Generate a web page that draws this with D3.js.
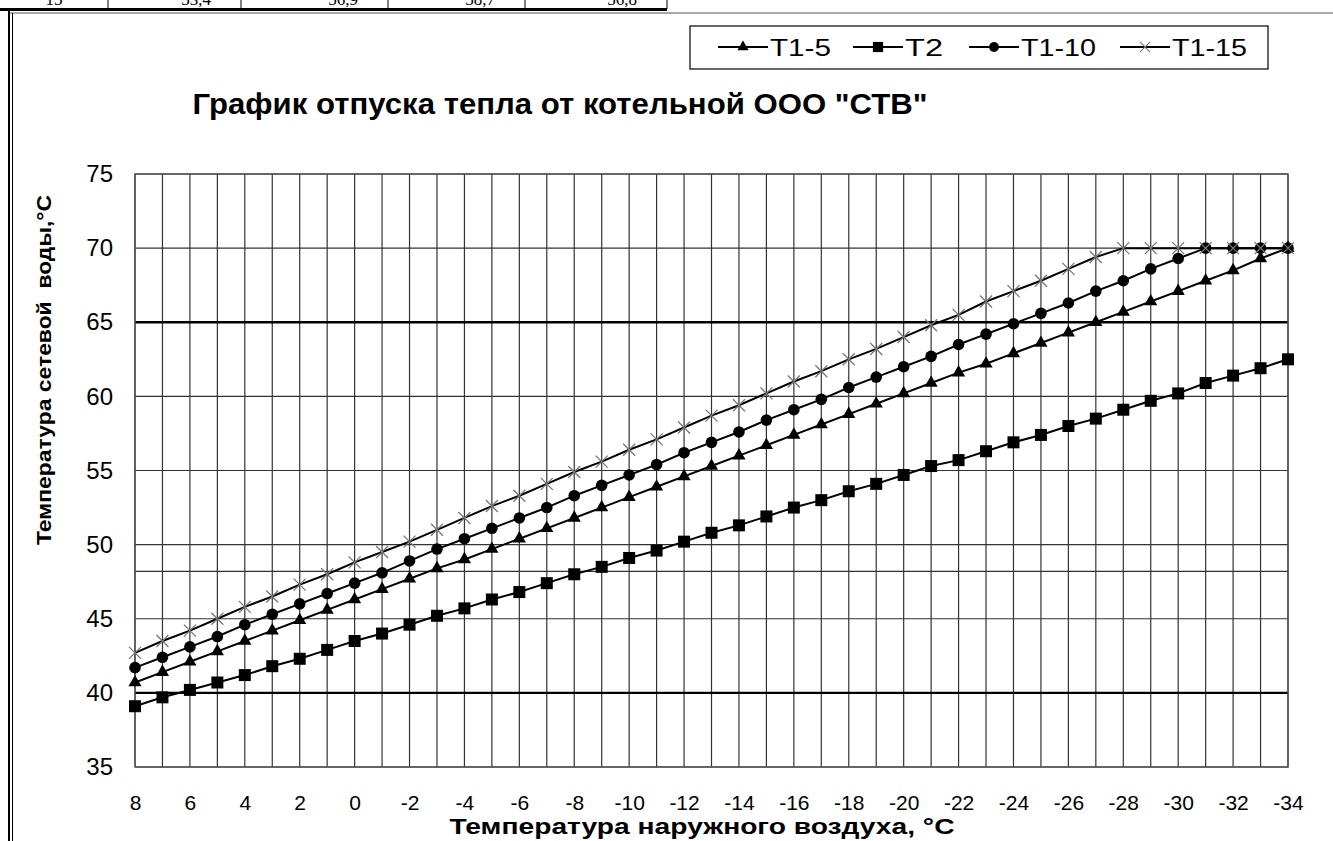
<!DOCTYPE html>
<html><head><meta charset="utf-8">
<script src="https://cdn.jsdelivr.net/npm/d3@7"></script>
<style>body{margin:0;background:#fff}svg{display:block}</style>
</head><body>
<svg id="c" width="1333" height="841"></svg>
<script>
// ---- data ----
const categories = [8,7,6,5,4,3,2,1,0,-1,-2,-3,-4,-5,-6,-7,-8,-9,-10,-11,-12,-13,-14,-15,-16,-17,-18,-19,-20,-21,-22,-23,-24,-25,-26,-27,-28,-29,-30,-31,-32,-33,-34];
const tickLabels = [8,6,4,2,0,-2,-4,-6,-8,-10,-12,-14,-16,-18,-20,-22,-24,-26,-28,-30,-32,-34];
const yTicks = [35,40,45,50,55,60,65,70,75];
const boldLines = [40,65];
const extraLines = [48.2];
const seriesNames = ["T1-5","T2","T1-10","T1-15"];
const t15  = [40.7,41.4,42.1,42.8,43.5,44.2,44.9,45.6,46.3,47.0,47.7,48.4,49.0,49.7,50.4,51.1,51.8,52.5,53.2,53.9,54.6,55.3,56.0,56.7,57.4,58.1,58.8,59.5,60.2,60.9,61.6,62.2,62.9,63.6,64.3,65.0,65.7,66.4,67.1,67.8,68.5,69.3,70.0];
const t2   = [39.1,39.7,40.2,40.7,41.2,41.8,42.3,42.9,43.5,44.0,44.6,45.2,45.7,46.3,46.8,47.4,48.0,48.5,49.1,49.6,50.2,50.8,51.3,51.9,52.5,53.0,53.6,54.1,54.7,55.3,55.7,56.3,56.9,57.4,58.0,58.5,59.1,59.7,60.2,60.9,61.4,61.9,62.5];
const t110 = [41.7,42.4,43.1,43.8,44.6,45.3,46.0,46.7,47.4,48.1,48.9,49.7,50.4,51.1,51.8,52.5,53.3,54.0,54.7,55.4,56.2,56.9,57.6,58.4,59.1,59.8,60.6,61.3,62.0,62.7,63.5,64.2,64.9,65.6,66.3,67.1,67.8,68.6,69.3,70.0,70.0,70.0,70.0];
const t115 = [42.7,43.5,44.2,45.0,45.8,46.5,47.3,48.0,48.8,49.5,50.2,51.0,51.8,52.6,53.3,54.1,54.9,55.6,56.4,57.1,57.9,58.7,59.4,60.2,61.0,61.7,62.5,63.2,64.0,64.8,65.5,66.4,67.1,67.8,68.6,69.4,70.0,70.0,70.0,70.0,70.0,70.0,70.0];
const tableCells = ["15","53,4","56,9","58,7","56,8"];
const tableEdges = [0,108,241,388,525,667];

const svg = d3.select("#c");
const F = "'Liberation Sans', Arial, sans-serif";
const L = 135, R = 1288, T = 174, B = 767;
const x = d3.scalePoint().domain(categories).range([L, R]);
const y = d3.scaleLinear().domain([35, 75]).range([B, T]);

// page table fragment and frame
tableCells.forEach((t, i) => {
  svg.append("text").attr("x", i === 0 ? (tableEdges[0] + tableEdges[1]) / 2 : tableEdges[i + 1] - 30)
    .attr("y", 5).attr("text-anchor", i === 0 ? "middle" : "end")
    .attr("font-family", "'Liberation Serif', serif").attr("font-size", 17).text(t);
});
tableEdges.slice(1).forEach(e => svg.append("line").attr("x1", e).attr("x2", e).attr("y1", 0).attr("y2", 9).attr("stroke", "#000").attr("stroke-width", 1));
svg.append("line").attr("x1", 0).attr("x2", 667).attr("y1", 9.5).attr("y2", 9.5).attr("stroke", "#000").attr("stroke-width", 3);
svg.append("line").attr("x1", 9).attr("x2", 1333).attr("y1", 13).attr("y2", 13).attr("stroke", "#555").attr("stroke-width", 1);
svg.append("line").attr("x1", 9).attr("x2", 9).attr("y1", 10).attr("y2", 841).attr("stroke", "#000").attr("stroke-width", 2);
svg.append("line").attr("x1", 12.5).attr("x2", 12.5).attr("y1", 13).attr("y2", 841).attr("stroke", "#000").attr("stroke-width", 1);

// grid
const g = svg.append("g");
g.selectAll(".vg").data(categories).enter().append("line")
  .attr("x1", d => x(d)).attr("x2", d => x(d)).attr("y1", T).attr("y2", B)
  .attr("stroke", "#333").attr("stroke-width", 1.2);
g.selectAll(".hg").data(yTicks.concat(extraLines)).enter().append("line")
  .attr("x1", L).attr("x2", R).attr("y1", d => y(d)).attr("y2", d => y(d))
  .attr("stroke", d => boldLines.includes(d) ? "#000" : "#333")
  .attr("stroke-width", d => boldLines.includes(d) ? 2.4 : 1.2);
g.append("rect").attr("x", L).attr("y", T).attr("width", R - L).attr("height", B - T)
  .attr("fill", "none").attr("stroke", "#555").attr("stroke-width", 1.5);

// axes labels
svg.append("g").attr("transform", `translate(${L - 22},0)`)
  .call(d3.axisLeft(y).tickValues(yTicks).tickSize(0).tickPadding(0))
  .call(a => a.select(".domain").remove())
  .selectAll("text").attr("font-family", F).attr("font-size", 24).attr("fill", "#000");
svg.append("g").attr("transform", `translate(0,${B + 28})`)
  .call(d3.axisBottom(x).tickValues(tickLabels).tickSize(0).tickPadding(0))
  .call(a => a.select(".domain").remove())
  .selectAll("text").attr("font-family", F).attr("font-size", 21).attr("fill", "#000");

// titles
svg.append("text").attr("x", 560).attr("y", 114).attr("text-anchor", "middle")
  .attr("font-family", F).attr("font-weight", "bold").attr("font-size", 29)
  .attr("textLength", 735).attr("lengthAdjust", "spacingAndGlyphs")
  .text("График отпуска тепла от котельной ООО \"СТВ\"");
svg.append("text").attr("x", 702).attr("y", 834).attr("text-anchor", "middle")
  .attr("font-family", F).attr("font-weight", "bold").attr("font-size", 22)
  .attr("textLength", 505).attr("lengthAdjust", "spacingAndGlyphs")
  .text("Температура наружного воздуха, °С");
svg.append("text").attr("transform", "translate(51,370) rotate(-90)").attr("text-anchor", "middle")
  .attr("font-family", F).attr("font-weight", "bold").attr("font-size", 21)
  .attr("textLength", 350).attr("lengthAdjust", "spacingAndGlyphs")
  .attr("xml:space", "preserve").style("white-space", "pre")
  .text("Температура сетевой  воды,°С");

// series
const series = [
  {name: seriesNames[0], vals: t15, sym: "tri"},
  {name: seriesNames[1], vals: t2, sym: "sq"},
  {name: seriesNames[2], vals: t110, sym: "circ"},
  {name: seriesNames[3], vals: t115, sym: "x"}
];
function marker(sel, sym) {
  if (sym === "tri") sel.append("path").attr("d", d3.symbol(d3.symbolTriangle, 75)()).attr("fill", "#000");
  else if (sym === "sq") sel.append("rect").attr("x", -6).attr("y", -6).attr("width", 12).attr("height", 12).attr("fill", "#000");
  else if (sym === "circ") sel.append("circle").attr("r", 5.8).attr("fill", "#000");
  else sel.append("path").attr("d", "M-6,-6L6,6M-6,6L6,-6").attr("stroke", "#777").attr("stroke-width", 1.3).attr("fill", "none");
}
const line = d3.line().x((d, i) => x(categories[i])).y(d => y(d));
series.forEach(s => {
  svg.append("path").datum(s.vals).attr("d", line).attr("fill", "none").attr("stroke", "#000").attr("stroke-width", 2);
  s.vals.forEach((v, i) => {
    const m = svg.append("g").attr("transform", `translate(${x(categories[i])},${y(v)})`);
    marker(m, s.sym);
  });
});

// legend
const lg = svg.append("g");
lg.append("rect").attr("x", 690).attr("y", 26).attr("width", 578).attr("height", 43)
  .attr("fill", "#fff").attr("stroke", "#000").attr("stroke-width", 1.2);
const lx = [718, 853, 969, 1120];
const lw = [61, 38, 75, 75];
series.forEach((s, i) => {
  const it = lg.append("g").attr("transform", `translate(${lx[i]},47)`);
  it.append("line").attr("x1", 0).attr("x2", 50).attr("y1", 0).attr("y2", 0).attr("stroke", "#000").attr("stroke-width", 2);
  const m = it.append("g").attr("transform", "translate(25,0) scale(0.85)");
  marker(m, s.sym);
  it.append("text").attr("x", 52).attr("y", 8.5).attr("font-family", F).attr("font-size", 24)
    .attr("textLength", lw[i]).attr("lengthAdjust", "spacingAndGlyphs").text(s.name);
});
</script>
</body></html>
